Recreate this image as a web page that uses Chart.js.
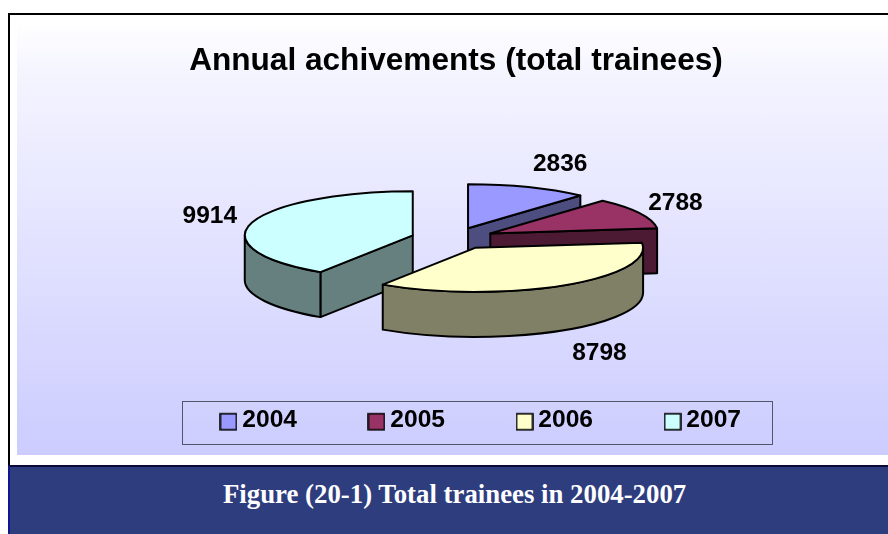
<!DOCTYPE html>
<html>
<head>
<meta charset="utf-8">
<script src="https://cdn.jsdelivr.net/npm/chart.js@4"></script>
<style>
html,body{margin:0;padding:0;background:#fff;overflow:hidden}
#stage{position:relative;width:888px;height:534px;overflow:hidden}
#frame{position:absolute;left:8px;top:13px;width:890px;height:450px;border:2px solid #000;box-sizing:content-box;background:#fff}
#grad{position:absolute;left:17px;top:22px;width:871px;height:433px;background:linear-gradient(#ffffff 0%,#f4f4ff 12%,#ccccff 100%)}
#foot{position:absolute;left:8px;top:465px;width:880px;height:69px;box-sizing:border-box;background:#2e3d7e;border-top:2px solid #0a0a3c;border-left:2px solid #14148c;color:#fff;font:bold 26.8px "Liberation Serif",serif}
#foot span{position:absolute;left:213px;top:12px;white-space:nowrap}
canvas{position:absolute;left:0;top:0}
</style>
</head>
<body>
<div id="stage">
<div id="frame"></div>
<div id="grad"></div>
<div id="foot"><span>Figure (20-1) Total trainees in 2004-2007</span></div>
<canvas id="c" width="888" height="534"></canvas>
</div>
<script>
const titleText = 'Annual achivements (total trainees)';
const categories = ['2004', '2005', '2006', '2007'];
const trainees = [2836, 2788, 8798, 9914];
const topColors = ['#9999FF', '#993366', '#FFFFCC', '#CCFFFF'];
const wallColors = ['#4D4D80', '#4D1A33', '#808066', '#668080'];
const labelNudges = [[32, -23], [36, -10], [36, 68], [-42, -6]];

const pie3d = {
  center: {x: 453, y: 238.5},
  tilt: 0.262,
  depth: 45,
  explode: 42,
  line: 2
};

function markerFor(color) {
  const m = document.createElement('canvas');
  m.width = 18; m.height = 22;
  const g = m.getContext('2d');
  g.fillStyle = color; g.fillRect(1, 4, 16, 16);
  g.strokeStyle = '#000'; g.lineWidth = 1.6; g.strokeRect(1, 4, 16, 16);
  return m;
}

function geom(el) {
  const p = el.getProps(['x', 'y', 'startAngle', 'endAngle', 'outerRadius']);
  const mid = (p.startAngle + p.endAngle) / 2;
  const ox = pie3d.center.x + Math.cos(mid) * pie3d.explode;
  const oy = pie3d.center.y + Math.sin(mid) * pie3d.explode * pie3d.tilt;
  return {...p, mid, ox, oy, rx: p.outerRadius, ry: p.outerRadius * pie3d.tilt};
}

function drawSlice(ctx, el, i) {
  const g = geom(el);
  const d = pie3d.depth;
  const px = a => g.ox + g.rx * Math.cos(a);
  const py = a => g.oy + g.ry * Math.sin(a);
  ctx.save();
  ctx.lineJoin = 'round';
  ctx.lineWidth = pie3d.line;
  ctx.strokeStyle = '#000';
  ctx.fillStyle = wallColors[i];
  const radial = a => {
    ctx.beginPath();
    ctx.moveTo(g.ox, g.oy);
    ctx.lineTo(px(a), py(a));
    ctx.lineTo(px(a), py(a) + d);
    ctx.lineTo(g.ox, g.oy + d);
    ctx.closePath();
    ctx.fill();
    ctx.stroke();
  };
  if (Math.cos(g.endAngle) > 1e-6) radial(g.endAngle);
  if (Math.cos(g.startAngle) < -1e-6) radial(g.startAngle);
  const a0 = Math.max(g.startAngle, 0), a1 = Math.min(g.endAngle, Math.PI);
  if (a1 > a0) {
    ctx.beginPath();
    ctx.ellipse(g.ox, g.oy, g.rx, g.ry, 0, a0, a1);
    ctx.lineTo(px(a1), py(a1) + d);
    ctx.ellipse(g.ox, g.oy + d, g.rx, g.ry, 0, a1, a0, true);
    ctx.closePath();
    ctx.fill();
    ctx.stroke();
  }
  ctx.save();
  ctx.translate(g.ox, g.oy);
  ctx.scale(1, pie3d.tilt);
  ctx.translate(-g.x, -g.y);
  el.draw(ctx);
  ctx.restore();
  ctx.beginPath();
  ctx.moveTo(g.ox, g.oy);
  ctx.ellipse(g.ox, g.oy, g.rx, g.ry, 0, g.startAngle, g.endAngle);
  ctx.closePath();
  ctx.stroke();
  ctx.restore();
}

const tiltedPie = {
  id: 'tiltedPie',
  afterLayout(chart) {
    const lg = chart.legend;
    lg.left += 28; lg.right += 28;
  },
  beforeDraw(chart) {
    const ctx = chart.ctx;
    ctx.save();
    ctx.strokeStyle = '#55556a';
    ctx.lineWidth = 1;
    ctx.strokeRect(182.5, 401.5, 590, 43);
    ctx.restore();
  },
  beforeDatasetsDraw(chart) {
    const meta = chart.getDatasetMeta(0);
    const order = meta.data.map((el, i) => i)
      .sort((a, b) => geom(meta.data[a]).oy - geom(meta.data[b]).oy);
    order.forEach(i => drawSlice(chart.ctx, meta.data[i], i));
    const ctx = chart.ctx;
    ctx.save();
    ctx.fillStyle = '#000';
    ctx.font = 'bold 24.5px "Liberation Sans", Arial, sans-serif';
    ctx.textAlign = 'center';
    ctx.textBaseline = 'middle';
    meta.data.forEach((el, i) => {
      const g = geom(el);
      ctx.fillText(String(trainees[i]),
        g.ox + g.rx * Math.cos(g.mid) + labelNudges[i][0],
        g.oy + g.ry * Math.sin(g.mid) + labelNudges[i][1]);
    });
    ctx.restore();
    return false;
  }
};

new Chart(document.getElementById('c'), {
  type: 'pie',
  data: {
    labels: categories,
    datasets: [{
      data: trainees,
      backgroundColor: topColors,
      borderWidth: 0
    }]
  },
  options: {
    responsive: false,
    animation: false,
    radius: 168,
    layout: {padding: {left: 24, right: 0, top: 0, bottom: 91}},
    plugins: {
      tooltip: {enabled: false},
      title: {
        display: true,
        text: titleText,
        color: '#000',
        font: {family: '"Liberation Sans", Arial, sans-serif', size: 31.6, weight: 'bold'},
        padding: {top: 42, bottom: 10}
      },
      legend: {
        position: 'bottom',
        labels: {
          usePointStyle: true,
          pointStyleWidth: 3,
          boxHeight: 18,
          padding: 78,
          color: '#000',
          font: {family: '"Liberation Sans", Arial, sans-serif', size: 24.6, weight: 'bold'},
          generateLabels(chart) {
            return Chart.overrides.doughnut.plugins.legend.labels.generateLabels(chart)
              .map((item, i) => ({...item, pointStyle: markerFor(topColors[i])}));
          }
        }
      }
    }
  },
  plugins: [tiltedPie]
});
</script>
</body>
</html>
